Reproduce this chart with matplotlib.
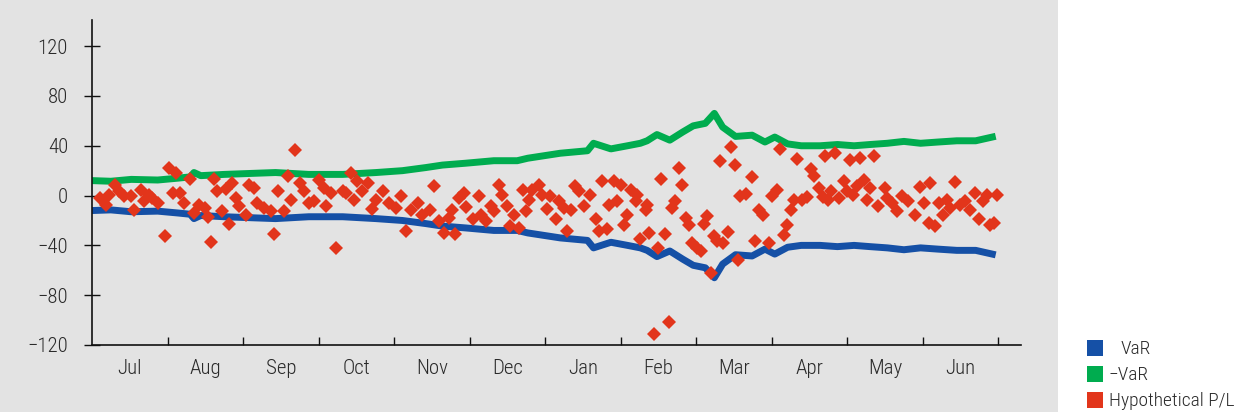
import matplotlib
matplotlib.use("Agg")
import matplotlib.pyplot as plt
from matplotlib.patches import Rectangle

### months on the x axis, positions are in "month" units (0 = start of Jul)
months = ["Jul", "Aug", "Sep", "Oct", "Nov", "Dec", "Jan", "Feb", "Mar", "Apr", "May", "Jun"]
yticks = [-120, -80, -40, 0, 40, 80, 120]

### value at risk (negative side), -VaR is the mirror of it
var_x = [0.01, 0.25, 0.52, 0.87, 1.14, 1.30, 1.35, 1.44, 1.75, 2.20, 2.43, 2.87, 3.32,
         3.76, 4.11, 4.42, 4.64, 4.95, 5.32, 5.63, 5.77, 6.20, 6.56, 6.64, 6.87, 7.09,
         7.26, 7.35, 7.48, 7.65, 7.82, 7.96, 8.12, 8.24, 8.35, 8.52, 8.74, 8.91, 9.04,
         9.21, 9.39, 9.64, 9.87, 10.09, 10.30, 10.53, 10.75, 10.97, 11.20, 11.45, 11.70, 11.92]
var_vals = [-12, -11.5, -13, -12.5, -14, -15, -18.5, -16, -17, -18, -18.5, -17, -17,
            -18.5, -20, -22.5, -24.5, -26, -28, -28, -30, -34, -36, -42, -37.5, -40,
            -42, -44, -49, -44.5, -51, -56, -58, -66, -55, -47.5, -48.5, -43, -47,
            -41.5, -40, -40, -41, -40, -41, -42, -43.5, -42, -43, -44, -44, -47]

### hypothetical P/L, one diamond per day
pl_x = [0.10, 0.19, 0.23, 0.30, 0.36, 0.43, 0.52, 0.56, 0.65, 0.69, 0.76, 0.80, 0.87, 0.96,
        1.02, 1.07, 1.11, 1.16, 1.22, 1.30, 1.35, 1.42, 1.49, 1.53, 1.57, 1.62, 1.66, 1.72,
        1.77, 1.81, 1.86, 1.90, 1.95, 2.04, 2.08, 2.15, 2.19, 2.28, 2.37, 2.41, 2.46,
        2.54, 2.59, 2.63, 2.69, 2.76, 2.81, 2.87, 2.94, 3.01, 3.07, 3.10, 3.16, 3.23, 3.32,
        3.36, 3.43, 3.47, 3.51, 3.58, 3.65, 3.71, 3.76, 3.85, 3.93, 4.02, 4.09, 4.16, 4.22,
        4.31, 4.37, 4.48, 4.53, 4.59, 4.66, 4.73, 4.77, 4.81, 4.86, 4.92,
        4.95, 5.04, 5.12, 5.15, 5.21, 5.28, 5.32, 5.39, 5.43, 5.50, 5.54, 5.59, 5.65, 5.70,
        5.74, 5.78, 5.82, 5.92, 5.96, 6.02, 6.07, 6.14, 6.18, 6.25, 6.29, 6.34, 6.40, 6.45,
        6.51, 6.60, 6.67, 6.71, 6.75, 6.82, 6.84, 6.91, 6.95, 7.00, 7.04, 7.09, 7.13, 7.20,
        7.22, 7.26, 7.33, 7.37,
        7.35, 7.44, 7.50, 7.54, 7.59, 7.64, 7.68, 7.72, 7.77, 7.81, 7.86, 7.91, 7.95, 8.01,
        8.06, 8.10, 8.14, 8.19, 8.23, 8.28, 8.32, 8.36, 8.42, 8.46, 8.51, 8.55, 8.58, 8.66,
        8.74, 8.78, 8.83, 8.89, 8.97, 9.00, 9.07, 9.11, 9.16, 9.20, 9.25, 9.29, 9.34, 9.40,
        9.47, 9.52, 9.56, 9.62, 9.68, 9.71, 9.75,
        9.78, 9.84, 9.89, 9.95, 10.00, 10.04, 10.08, 10.13, 10.17, 10.22, 10.26, 10.30, 10.36,
        10.41, 10.50, 10.53, 10.59, 10.66, 10.72, 10.81, 10.90, 10.96, 11.01, 11.08, 11.10,
        11.16, 11.21, 11.27, 11.32, 11.36, 11.43, 11.49, 11.56, 11.63, 11.69, 11.75, 11.80,
        11.85, 11.89, 11.94, 11.98]
pl_vals = [-1.9, -7.2, 0.8, 8.8, 3.5, -0.5, -0.5, -11.2, 4.8, -4.5, 0.8, -1.9, -5.9, -32.5,
           22.1, 2.1, 18.1, 2.1, -5.9, 13.3, -13.9, -7.2, -9.9, -17, -37, 13.3, 3.5, -12,
           5.3, -22.7, 10.1, -1.9, -8.5, -15.2, 8.8, 6.1, -5.9, -9.9, -12.5, -31.2, 3.5,
           -12.5, 16, -3.2, 36.8, 10.1, 3.5, -5.9, -4.5, 12.8, 6.1, -8, 2.1, -41.9, 3.5,
           2.1, 18.1, -3.2, 11.5, 3.5, 10.1, -10.7, -3.2, 3.5, -5.9, -9.9, -0.5, -28.5, -11.2,
           -5.9, -15.2, -11.2, 7.5, -20.5, -29.9, -17.9, -11.2, -31.2, -1.9, 2.1,
           -9.1, -19.2, 0, -15.2, -20.5, -8.5, -12.5, 8.8, 0.8, -8.5, -24.5, -15.2, -25.9, 4.8,
           -12.5, -3.2, 4.8, 8.8, 0.8, -10.7, -0.5, -19.2, -4.5, -9.9, -28.5, -11.7, 7.5, 3.5,
           -8.5, 0.8, -18.7, -28.5, 11.5, -27.2, -7.2, 11.5, -4.5, 8.8, -24, -15.2, 4.8, -4.5,
           0.8, -35.2, -11.2, -29.9,
           -7.2, -111.2, -41.9, 13.3, -31.2, -101.9, -9.9, -4.5, 22.1, 8.8, -17.9, -24, -37.9, -41.9,
           -44.5, -23.2, -16.5, -61.9, -32.5, -36.5, 27.5, -37.9, -29.3, 39, 24.3, -52, -0.5, 1.3,
           14.9, -36.5, -11.2, -15.2, -37.9, -0.5, 4.8, 37.3, -32, -24, -11.2, -3.2, 29.6, -3.2,
           -1.1, 21.3, 16, 6.1, -1.1, 31.5, -3.2,
           3.5, 34.1, -1.9, 11.5, 3.5, 28.8, 0.8, 7.5, 30.1, 12.8, -3.2, 6.1, 32,
           -8, 6.1, -1.9, -5.9, -12.5, -0.5, -4.5, -16, 7, -5.9, -21.9, 10.1,
           -24.5, -5.9, -15.2, -3.2, -9.9, 10.7, -7.2, -4.5, -11.2, 2.1, -18.7, -4.5,
           0.8, -24, -21.9, 0.8]

blue = "#1550a6"
green = "#00ac4f"
red = "#e2351b"
bg = "#e3e3e3"
txt = "#2a2a2a"

plt.rcParams["font.family"] = ["Roboto Condensed", "Archivo Narrow", "DejaVu Sans"]
plt.rcParams["font.weight"] = 300
plt.rcParams["font.size"] = 15

fig = plt.figure(figsize=(12.36, 4.12), dpi=100)
fig.patch.set_facecolor("white")
# gray panel behind the plot (legend sits on white)
fig.patches.append(Rectangle((0, 0), 1058 / 1236, 1, transform=fig.transFigure,
                             facecolor=bg, edgecolor="none", zorder=-10))

ax = fig.add_axes([92 / 1236, 1 - 345 / 412, (1021 - 92) / 1236, (345 - 20) / 412])
ax.set_facecolor(bg)

neg_var = [-v for v in var_vals]
ax.plot(var_x, var_vals, color=blue, lw=5, solid_joinstyle="round", zorder=2)
ax.plot(var_x, neg_var, color=green, lw=5, solid_joinstyle="round", zorder=2)
ax.plot(pl_x, pl_vals, linestyle="none", marker="D", markersize=7.6,
        color=red, markeredgewidth=0, zorder=3)

ax.set_xlim(0, 12.3)
ax.set_ylim(-120, 141)
ax.set_yticks(yticks)
ax.set_yticklabels([str(t).replace("-", "\u2212") for t in yticks])
ax.tick_params(axis="y", direction="inout", length=11.5, width=1, pad=11.5,
               labelsize=15, labelcolor=txt, color="#111111")

# month boundaries as ticks, names centred in between
ax.set_xticks(range(1, 13))
ax.set_xticklabels([])
ax.set_xticks([i + 0.5 for i in range(12)], minor=True)
ax.set_xticklabels(months, minor=True)
ax.tick_params(axis="x", which="major", direction="in", length=6, width=1, color="#111111")
ax.tick_params(axis="x", which="minor", length=0, pad=10, labelsize=15, labelcolor=txt)

for s in ["top", "right"]:
    ax.spines[s].set_visible(False)
for s in ["left", "bottom"]:
    ax.spines[s].set_linewidth(1.2)
    ax.spines[s].set_color("#111111")

### legend drawn by hand below the panel edge
leg_colors = [blue, green, red]
leg_labels = ["VaR", "\u2212VaR", "Hypothetical P/L"]
leg_text_x = [1121, 1109, 1109]
for i in range(3):
    top = 340 + 26 * i
    fig.patches.append(Rectangle((1087 / 1236, 1 - (top + 16) / 412), 16 / 1236, 16 / 412,
                                 transform=fig.transFigure, facecolor=leg_colors[i],
                                 edgecolor="none"))
    fig.text(leg_text_x[i] / 1236, 1 - (top + 9) / 412, leg_labels[i], fontsize=14,
             va="center", ha="left", color=txt)

plt.savefig("out.png", dpi=100)
